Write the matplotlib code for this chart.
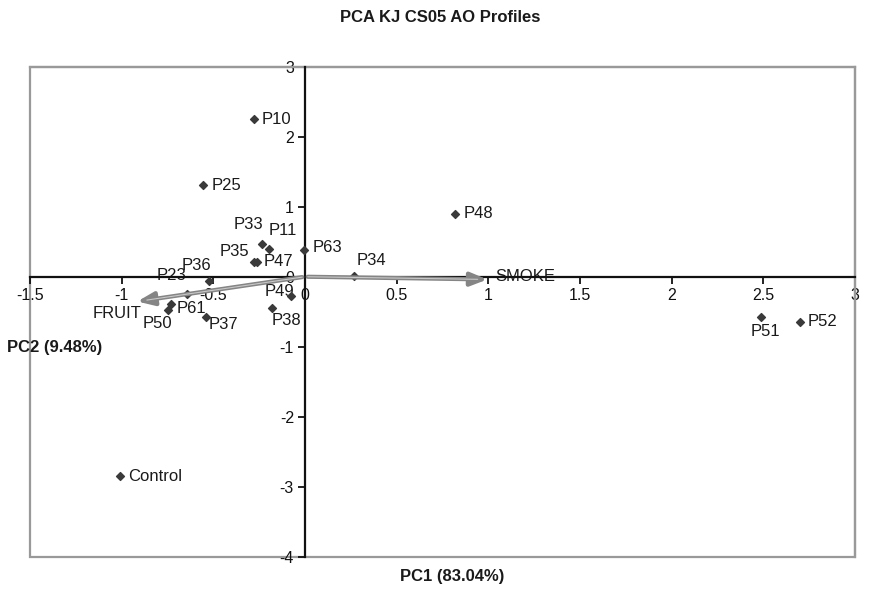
import matplotlib.pyplot as plt
from matplotlib.patches import Rectangle

plt.rcParams['font.family'] = ['Liberation Sans', 'DejaVu Sans']
plt.rcParams['axes.unicode_minus'] = False

# scores (PC1, PC2)
labels = ["P10", "P25", "P48", "P33", "P11", "P35", "P47", "P63", "P34", "P36",
          "P23", "P61", "P50", "P37", "P49", "P38", "P51", "P52", "Control"]
pc1 = [-0.28, -0.555, 0.82, -0.235, -0.195, -0.28, -0.26, -0.005, 0.27, -0.525,
       -0.645, -0.73, -0.745, -0.54, -0.075, -0.18, 2.49, 2.70, -1.01]
pc2 = [2.25, 1.31, 0.90, 0.47, 0.39, 0.21, 0.21, 0.38, 0.01, -0.06,
       -0.24, -0.39, -0.48, -0.58, -0.27, -0.44, -0.58, -0.64, -2.85]

# loadings (arrows)
var_names = ["FRUIT", "SMOKE"]
load1 = [-0.93, 1.01]
load2 = [-0.36, -0.04]

# label offsets in pixels (dx, dy, ha)
offsets = {
    "P10": (8, 0, "left"), "P25": (8, 0, "left"), "P48": (8, 0, "left"),
    "P33": (-13, 19, "center"), "P11": (14, 19, "center"),
    "P35": (-4, 11, "right"), "P47": (6, 1, "left"), "P63": (9, 3, "left"),
    "P34": (17, 16, "center"), "P36": (-12, 15, "center"), "P23": (-15, 18, "center"),
    "P61": (5, -4, "left"), "P50": (-11, -13, "center"), "P37": (3, -7, "left"),
    "P49": (-12, 4, "center"), "P38": (14, -13, "center"), "P51": (4, -14, "center"),
    "P52": (8, 0, "left"), "Control": (8, 0, "left"),
}

fig = plt.figure(figsize=(8.7, 6.05), dpi=100)
ax = fig.add_axes([30 / 870, 1 - 556.7 / 605, 825 / 870, 490 / 605])

ax.scatter(pc1, pc2, marker="D", s=16, color="#3a3a3a", zorder=4)
for lab, x, y in zip(labels, pc1, pc2):
    dx, dy, ha = offsets[lab]
    ax.annotate(lab, (x, y), xytext=(dx, dy), textcoords="offset pixels",
                ha=ha, va="center", fontsize=12, color="#1a1a1a")

for name, x, y in zip(var_names, load1, load2):
    ax.annotate("", xy=(x, y), xytext=(0, 0),
                arrowprops=dict(arrowstyle="-|>,head_length=1.0,head_width=0.4",
                                color="#858585", lw=3), zorder=5)
    ax.annotate("", xy=(x, y), xytext=(0, 0),
                arrowprops=dict(arrowstyle="-", color="#c8c8c8", lw=0.8,
                                shrinkB=9), zorder=6)
ax.annotate("FRUIT", (load1[0], load2[0]), xytext=(-17, -12), textcoords="offset pixels",
            ha="center", va="center", fontsize=12, color="#1a1a1a")
ax.annotate("SMOKE", (load1[1], load2[1]), xytext=(5, 3), textcoords="offset pixels",
            ha="left", va="center", fontsize=12, color="#1a1a1a")

ax.set_xlim(-1.5, 3)
ax.set_ylim(-4, 3)
ax.set_xticks([-1.5, -1, -0.5, 0, 0.5, 1, 1.5, 2, 2.5, 3])
ax.set_xticklabels(["-1.5", "-1", "-0.5", "0", "0.5", "1", "1.5", "2", "2.5", "3"])
ax.set_yticks(range(-4, 4))

ax.spines["left"].set_position(("data", 0))
ax.spines["bottom"].set_position(("data", 0))
for s in ["left", "bottom"]:
    ax.spines[s].set_color("#111111")
    ax.spines[s].set_linewidth(1.6)
    ax.spines[s].set_zorder(3)
for s in ["top", "right"]:
    ax.spines[s].set_color("#999999")
    ax.spines[s].set_linewidth(1.6)
ax.add_patch(Rectangle((0, 0), 1, 1, transform=ax.transAxes, fill=False,
                       edgecolor="#999999", lw=1.6, clip_on=False, zorder=1))
ax.tick_params(direction="out", length=5, width=1.3, labelsize=11.5, colors="#111111", pad=3)

fig.text(440 / 870, 1 - 17 / 605, "PCA KJ CS05 AO Profiles", ha="center", va="center",
         fontsize=12, fontweight="bold", color="#1a1a1a")
fig.text(452 / 870, 1 - 577 / 605, "PC1 (83.04%)", ha="center", va="center",
         fontsize=12, fontweight="bold", color="#1a1a1a")
fig.text(7 / 870, 1 - 348 / 605, "PC2 (9.48%)", ha="left", va="center",
         fontsize=12, fontweight="bold", color="#1a1a1a")

fig.savefig("out.png", dpi=100)
